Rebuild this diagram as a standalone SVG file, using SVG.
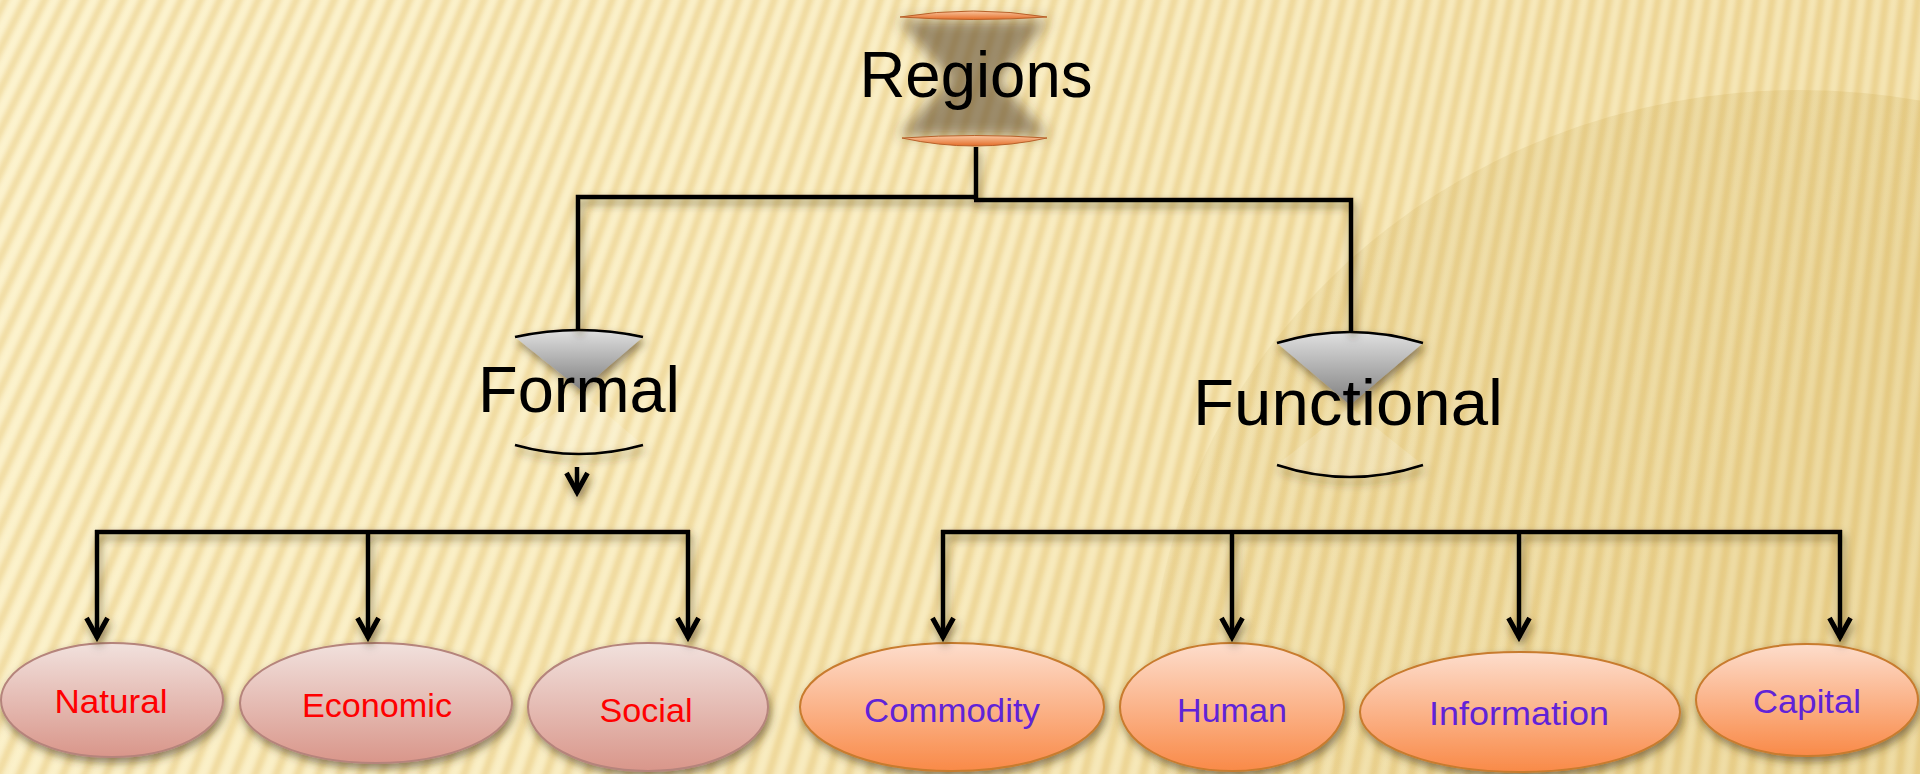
<svg xmlns="http://www.w3.org/2000/svg" width="1920" height="774" viewBox="0 0 1920 774">
<style>
.lbl{font-family:"Liberation Sans",Arial,sans-serif;font-size:33px;text-anchor:middle}
.red{fill:#FF0000}
.pur{fill:#6023D8}
.big{font-family:"Liberation Sans",Arial,sans-serif;font-size:65px;text-anchor:middle;fill:#000}
.conn{fill:none;stroke:#000;stroke-width:4.5}
.arr{marker-end:url(#arr)}
.arc{fill:none;stroke:#000;stroke-width:2.5}
.pink{fill:url(#gPink);stroke:#B5847B;stroke-width:2}
.orng{fill:url(#gOrng);stroke:#C87B2E;stroke-width:2}
.tri{fill:url(#gGray)}
.lens{fill:url(#gLens);stroke:#B8612A;stroke-width:1}
.ghost{fill:#FFFFFF;fill-opacity:0.14}
</style>
<defs>
<linearGradient id="gBg" x1="0" y1="0" x2="1" y2="0.3">
<stop offset="0" stop-color="#FCF2CB"/>
<stop offset="0.5" stop-color="#F9ECBF"/>
<stop offset="1" stop-color="#F2DFA6"/>
</linearGradient>
<linearGradient id="gDome" x1="0.1" y1="0.9" x2="0.6" y2="0.15">
<stop offset="0" stop-color="#B8922E" stop-opacity="0"/>
<stop offset="0.6" stop-color="#B8922E" stop-opacity="0.09"/>
<stop offset="1" stop-color="#B8922E" stop-opacity="0.14"/>
</linearGradient>
<linearGradient id="gPink" x1="0" y1="0" x2="0" y2="1">
<stop offset="0" stop-color="#F1E1DD"/>
<stop offset="1" stop-color="#D9968A"/>
</linearGradient>
<linearGradient id="gOrng" x1="0" y1="0" x2="0" y2="1">
<stop offset="0" stop-color="#FDDDCC"/>
<stop offset="1" stop-color="#F98A48"/>
</linearGradient>
<linearGradient id="gGray" x1="0" y1="0" x2="0" y2="1">
<stop offset="0" stop-color="#E0E0E0"/>
<stop offset="1" stop-color="#7E7E7E"/>
</linearGradient>
<linearGradient id="gLens" x1="0" y1="0" x2="0" y2="1">
<stop offset="0" stop-color="#FAC7A0"/>
<stop offset="1" stop-color="#E36C28"/>
</linearGradient>
<filter id="sh" x="-20%" y="-30%" width="140%" height="180%">
<feDropShadow dx="2" dy="5" stdDeviation="4" flood-color="#3d2e0a" flood-opacity="0.55"/>
</filter>
<filter id="bl" x="-30%" y="-30%" width="160%" height="160%">
<feGaussianBlur stdDeviation="7"/>
</filter>
<filter id="soft" filterUnits="userSpaceOnUse" x="0" y="0" width="1920" height="774">
<feGaussianBlur stdDeviation="2.4"/>
</filter>
<marker id="arr" markerUnits="userSpaceOnUse" markerWidth="40" markerHeight="40" viewBox="-30 -20 40 40" refX="0" refY="0" orient="auto" overflow="visible">
<path d="M-20,-10.5 L-1,0 L-20,10.5" fill="none" stroke="#000" stroke-width="5"/>
</marker>
</defs>

<g id="background">
<rect x="0" y="0" width="1920" height="774" fill="url(#gBg)"/>
<g filter="url(#soft)">
<circle cx="2526" cy="-5053" r="5720" fill="none" stroke="#E2BE68" stroke-opacity="0.30" stroke-width="1320" stroke-dasharray="8 10"/>
<circle cx="2526" cy="-5053" r="5720" fill="none" stroke="#D6AE55" stroke-opacity="0.18" stroke-width="1320" stroke-dasharray="3 15" stroke-dashoffset="-2.5"/>
<circle cx="2526" cy="-5053" r="5720" fill="none" stroke="#FFFBE6" stroke-opacity="0.35" stroke-width="1320" stroke-dasharray="3 15" stroke-dashoffset="-11"/>
</g>
<ellipse cx="1800" cy="700" rx="650" ry="610" fill="url(#gDome)"/>
</g>

<g id="node-regions">
<path d="M898,20 L1049,20 L998,80 L1049,136 L898,136 L950,80 Z" fill="#4E3D22" fill-opacity="0.55" filter="url(#bl)"/>
<path class="lens" d="M900,17 Q973,5 1047,17 Q973,22 900,17 Z"/>
<path class="lens" d="M902,138 Q975,133 1047,138 Q975,154 902,138 Z"/>
<text class="big" x="976" y="97" font-size="74" textLength="233" lengthAdjust="spacingAndGlyphs">Regions</text>
</g>

<g id="node-formal">
<path class="ghost" d="M515,445 Q579,463 643,445 L581,392 Z"/>
<g filter="url(#sh)">
<path class="tri" d="M515,337 Q579,323 643,337 L581,390 Z"/>
<path class="arc" d="M515,337 Q579,323 643,337"/>
<path class="arc" d="M515,445 Q579,463 643,445"/>
</g>
<text class="big" x="579" y="412" textLength="202" lengthAdjust="spacingAndGlyphs">Formal</text>
</g>

<g id="node-functional">
<path class="ghost" d="M1277,465 Q1350,489 1423,465 L1350,407 Z"/>
<g filter="url(#sh)">
<path class="tri" d="M1277,343 Q1350,321 1423,343 L1350,405 Z"/>
<path class="arc" d="M1277,343 Q1350,321 1423,343"/>
<path class="arc" d="M1277,465 Q1350,489 1423,465"/>
</g>
<text class="big" x="1348" y="425" textLength="310" lengthAdjust="spacingAndGlyphs">Functional</text>
</g>

<g id="node-natural">
<ellipse class="pink" cx="112" cy="700" rx="111" ry="57" filter="url(#sh)"/>
<text class="lbl red" x="111" y="713" textLength="113" lengthAdjust="spacingAndGlyphs">Natural</text>
</g>
<g id="node-economic">
<ellipse class="pink" cx="376" cy="703" rx="136" ry="60" filter="url(#sh)"/>
<text class="lbl red" x="377" y="717" textLength="150" lengthAdjust="spacingAndGlyphs">Economic</text>
</g>
<g id="node-social">
<ellipse class="pink" cx="648" cy="707" rx="120" ry="64" filter="url(#sh)"/>
<text class="lbl red" x="646" y="722" textLength="93" lengthAdjust="spacingAndGlyphs">Social</text>
</g>
<g id="node-commodity">
<ellipse class="orng" cx="952" cy="707" rx="152" ry="64" filter="url(#sh)"/>
<text class="lbl pur" x="952" y="722" textLength="176" lengthAdjust="spacingAndGlyphs">Commodity</text>
</g>
<g id="node-human">
<ellipse class="orng" cx="1232" cy="707" rx="112" ry="64" filter="url(#sh)"/>
<text class="lbl pur" x="1232" y="722" textLength="110" lengthAdjust="spacingAndGlyphs">Human</text>
</g>
<g id="node-information">
<ellipse class="orng" cx="1520" cy="712" rx="160" ry="60" filter="url(#sh)"/>
<text class="lbl pur" x="1519" y="725" textLength="180" lengthAdjust="spacingAndGlyphs">Information</text>
</g>
<g id="node-capital">
<ellipse class="orng" cx="1807" cy="700" rx="111" ry="56" filter="url(#sh)"/>
<text class="lbl pur" x="1807" y="713" textLength="108" lengthAdjust="spacingAndGlyphs">Capital</text>
</g>

<g id="connectors" filter="url(#sh)">
<path class="conn" d="M976,147 V200"/>
<path class="conn" d="M978,197 H578 V330"/>
<path class="conn" d="M974,200 H1351 V332"/>
<path class="conn arr" d="M577,467 V493"/>
<path class="conn" d="M95,532 H690"/>
<path class="conn arr" d="M97,530 V638"/>
<path class="conn arr" d="M368,530 V638"/>
<path class="conn arr" d="M688,530 V638"/>
<path class="conn" d="M941,532 H1842"/>
<path class="conn arr" d="M943,530 V638"/>
<path class="conn arr" d="M1232,530 V638"/>
<path class="conn arr" d="M1519,530 V638"/>
<path class="conn arr" d="M1840,530 V638"/>
</g>
</svg>
